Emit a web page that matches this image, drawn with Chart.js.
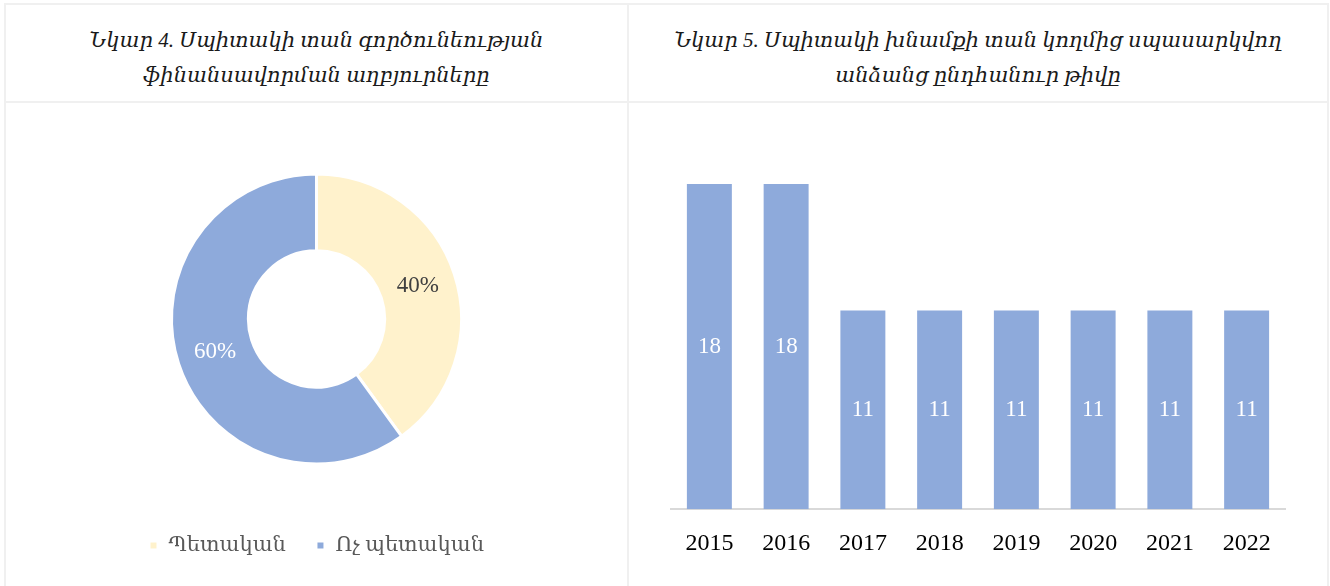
<!DOCTYPE html>
<html>
<head>
<meta charset="utf-8">
<script src="https://cdn.jsdelivr.net/npm/chart.js@4/dist/chart.umd.min.js"></script>
<style>
  html, body { margin: 0; padding: 0; background: #fff; width: 1330px; height: 586px; overflow: hidden; }
  .frame { position: absolute; left: 4px; top: 3px; width: 1321px; height: 600px; border: 2px solid #f0f0f0; border-bottom: none; }
  .hline { position: absolute; left: 4px; top: 101px; width: 1325px; height: 2px; background: #f0f0f0; }
  .vline { position: absolute; left: 627px; top: 3px; width: 2px; height: 600px; background: #f0f0f0; }
  .title { position: absolute; top: 5px; height: 96px; box-sizing: border-box; padding-top: 10px; display: flex; align-items: center; justify-content: center; text-align: center;
           font-family: "Liberation Serif", "DejaVu Serif", serif; font-style: italic; font-size: 21px; line-height: 35px; color: #1a1a1a; }
  #t1 { left: 6px; width: 621px; }
  #t2 { left: 629px; width: 698px; }
  canvas { position: absolute; }
</style>
</head>
<body>
<div class="frame"></div>
<div class="hline"></div>
<div class="vline"></div>
<div class="title" id="t1"></div>
<div class="title" id="t2"></div>
<div style="position:absolute;left:6px;top:103px;width:621px;height:483px;"><canvas id="c1" style="left:0;top:0"></canvas></div>
<div style="position:absolute;left:629px;top:103px;width:698px;height:483px;"><canvas id="c2" style="left:0;top:0"></canvas></div>
<script>
// ---- data ----
const title1Lines = ["Նկար 4. Սպիտակի տան գործունեության", "ֆինանսավորման աղբյուրները"];
const title2Lines = ["Նկար 5. Սպիտակի խնամքի տան կողմից սպասարկվող", "անձանց ընդհանուր թիվը"];
const fundingLabels = ["Պետական", "Ոչ պետական"];
const fundingShares = [40, 60];
const years = ["2015", "2016", "2017", "2018", "2019", "2020", "2021", "2022"];
const persons = [18, 18, 11, 11, 11, 11, 11, 11];

document.getElementById('t1').innerHTML = title1Lines.join('<br>');
document.getElementById('t2').innerHTML = title2Lines.join('<br>');

const SERIF = '"Liberation Serif", "DejaVu Serif", serif';
Chart.defaults.font.family = SERIF;

// inline label plugin for doughnut
const donutLabels = {
  id: 'donutLabels',
  afterDatasetsDraw(chart) {
    const ctx = chart.ctx;
    const meta = chart.getDatasetMeta(0);
    const colors = ['#404040', '#ffffff'];
    ctx.save();
    ctx.font = '23px ' + SERIF;
    ctx.textAlign = 'center';
    ctx.textBaseline = 'middle';
    meta.data.forEach((arc, i) => {
      const p = arc.getProps(['x', 'y', 'startAngle', 'endAngle', 'innerRadius', 'outerRadius'], true);
      const a = (p.startAngle + p.endAngle) / 2;
      const r = (p.innerRadius + p.outerRadius) / 2;
      ctx.fillStyle = colors[i];
      ctx.fillText(fundingShares[i] + '%', p.x + r * Math.cos(a), p.y + r * Math.sin(a));
    });
    ctx.restore();
  }
};

new Chart(document.getElementById('c1'), {
  type: 'doughnut',
  data: {
    labels: fundingLabels,
    datasets: [{
      data: fundingShares,
      backgroundColor: ['#FFF2CC', '#8EAADB'],
      borderColor: '#ffffff',
      borderWidth: 3,
      radius: 145,
      cutout: '47%'
    }]
  },
  options: {
    responsive: true,
    maintainAspectRatio: false,
    animation: false,
    layout: { padding: { top: 30, bottom: 20, left: 0, right: 0 } },
    plugins: {
      tooltip: { enabled: false },
      legend: {
        position: 'bottom',
        labels: {
          boxWidth: 9, boxHeight: 9, padding: 30,
          color: '#595959',
          font: { size: 21, family: SERIF }
        }
      }
    }
  },
  plugins: [donutLabels]
});

const barLabels = {
  id: 'barLabels',
  afterDatasetsDraw(chart) {
    const ctx = chart.ctx;
    const meta = chart.getDatasetMeta(0);
    ctx.save();
    ctx.font = '23px ' + SERIF;
    ctx.fillStyle = '#ffffff';
    ctx.textAlign = 'center';
    ctx.textBaseline = 'middle';
    meta.data.forEach((bar, i) => {
      const p = bar.getProps(['x', 'y', 'base'], true);
      ctx.fillText(String(persons[i]), p.x, (p.y + p.base) / 2);
    });
    ctx.restore();
  }
};

new Chart(document.getElementById('c2'), {
  type: 'bar',
  data: {
    labels: years,
    datasets: [{
      data: persons,
      backgroundColor: '#8EAADB',
      categoryPercentage: 1,
      barPercentage: 0.586
    }]
  },
  options: {
    responsive: true,
    maintainAspectRatio: false,
    animation: false,
    layout: { padding: { top: 45, bottom: 8, left: 42, right: 42 } },
    plugins: { legend: { display: false }, tooltip: { enabled: false } },
    scales: {
      y: { display: false, min: 0, max: 20 },
      x: {
        grid: { display: false, drawTicks: false },
        border: { display: true, color: '#d9d9d9', width: 2 },
        ticks: { color: '#000000', font: { size: 24, family: SERIF }, padding: 20 }
      }
    }
  },
  plugins: [barLabels]
});
</script>
</body>
</html>
